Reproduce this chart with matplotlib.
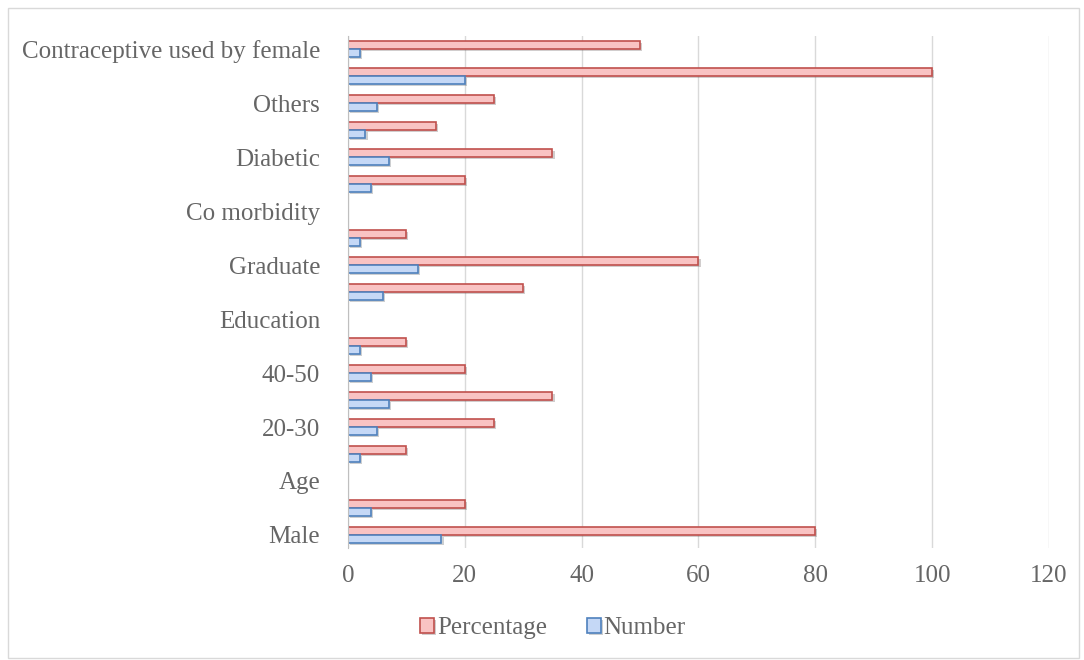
import matplotlib
matplotlib.use("Agg")
import matplotlib.pyplot as plt
import matplotlib.patheffects as pe
from matplotlib.patches import Rectangle
import numpy as np

categories = ["Male", "Female", "Age", "<20", "20-30", "30-40", "40-50", ">50",
              "Education", "Secondary", "Graduate", "Post graduate",
              "Co morbidity", "Hypertension", "Diabetic", "Asthma", "Others",
              "Total", "Contraceptive used by female"]
percentage = [80, 20, None, 10, 25, 35, 20, 10, None, 30, 60, 10, None, 20, 35, 15, 25, 100, 50]
number = [16, 4, None, 2, 5, 7, 4, 2, None, 6, 12, 2, None, 4, 7, 3, 5, 20, 2]
xticks = [0, 20, 40, 60, 80, 100, 120]

plt.rcParams['font.family'] = ['Liberation Serif', 'DejaVu Serif']
text_color = '#666666'

fig = plt.figure(figsize=(10.84, 6.6), dpi=100)
ax = fig.add_axes([0.321, 0.169, 0.6467, 0.777])

y = np.arange(len(categories))
h = 0.3
pv = [np.nan if v is None else v for v in percentage]
nv = [np.nan if v is None else v for v in number]
shadow = [pe.SimplePatchShadow(offset=(1.5, -1.5), alpha=0.25), pe.Normal()]
b1 = ax.barh(y + h / 2, pv, height=h, color='#f9c3c3', edgecolor='#c0504d',
             linewidth=1.2, label='Percentage', zorder=3)
b2 = ax.barh(y - h / 2, nv, height=h, color='#c5d8f6', edgecolor='#4f81bd',
             linewidth=1.2, label='Number', zorder=3)
for b in list(b1) + list(b2):
    b.set_path_effects(shadow)

ax.set_xlim(0, 120)
ax.set_ylim(-0.5, len(categories) - 0.5)
ax.set_xticks(xticks)
ax.set_xticklabels([str(t) for t in xticks], fontsize=18, color=text_color)
shown = list(range(0, len(categories), 2))
ax.set_yticks(shown)
ax.set_yticklabels([categories[i] for i in shown], fontsize=18, color=text_color)
ax.tick_params(axis='x', length=0, pad=12)
ax.tick_params(axis='y', length=0, pad=20)
ax.grid(axis='x', color='#d9d9d9', linewidth=1, zorder=0)
for s in ['top', 'right', 'bottom']:
    ax.spines[s].set_visible(False)
ax.spines['left'].set_color('#bfbfbf')
ax.spines['left'].set_zorder(4)

leg = fig.legend(handles=[b1, b2], labels=['Percentage', 'Number'], loc='center',
                 bbox_to_anchor=(0.51, 0.048), ncol=2, frameon=False, fontsize=18,
                 handlelength=0.55, handleheight=0.55, handletextpad=0.12, columnspacing=1.6)
for t in leg.get_texts():
    t.set_color(text_color)

fig.patches.append(Rectangle((0.007, 0.003), 0.988, 0.985, transform=fig.transFigure,
                             fill=False, edgecolor='#d9d9d9', linewidth=1))

fig.savefig('out.png', dpi=100)
